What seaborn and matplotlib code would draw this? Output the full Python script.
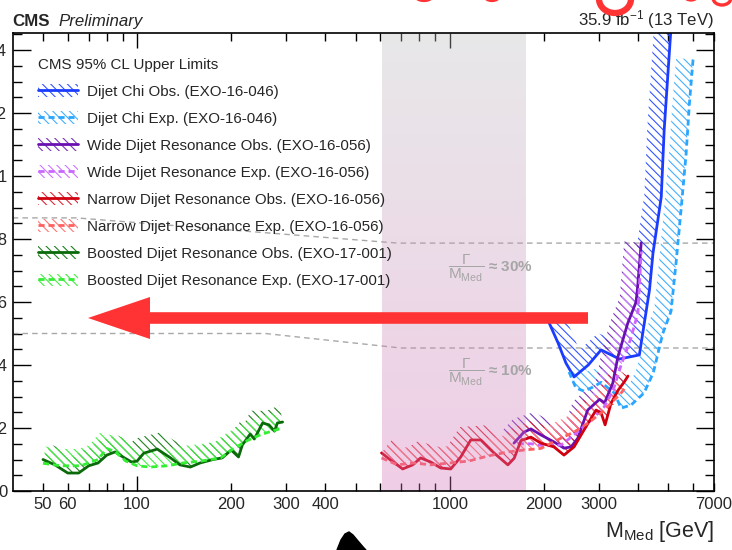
import numpy as np
import pandas as pd
import matplotlib
matplotlib.use("Agg")
import matplotlib.pyplot as plt
import seaborn as sns
from matplotlib.patches import Patch, Polygon, FancyArrow, Arc
from matplotlib.lines import Line2D
from matplotlib.ticker import FixedLocator, FixedFormatter, MultipleLocator, FuncFormatter
from matplotlib.transforms import IdentityTransform
from matplotlib.legend_handler import HandlerTuple

# ---------------- data ----------------
chi_obs_x = [2080, 2220, 2353, 2497, 2773, 3048, 3487, 4040, 4352, 4466, 4747, 4850, 4995, 5100]
chi_obs_y = [0.533, 0.47, 0.406, 0.362, 0.40, 0.448, 0.419, 0.432, 0.638, 0.755, 0.934, 1.146, 1.337, 1.47]

chi_exp_x = [2406, 2532, 2688, 2870, 3048, 3360, 3530, 3800, 4180, 4475, 4800, 5100, 5300, 5500, 5700, 5840, 6000]
chi_exp_y = [0.378, 0.327, 0.317, 0.33, 0.345, 0.311, 0.263, 0.273, 0.311, 0.375, 0.50, 0.57, 0.73, 0.90, 1.07, 1.23, 1.37]

wide_obs_x = [1604, 1727, 1818, 1957, 2153, 2319, 2443, 2565, 2762, 3013, 3127, 3321, 3449, 3707, 3943, 3990, 4095]
wide_obs_y = [0.152, 0.187, 0.197, 0.178, 0.156, 0.136, 0.14, 0.167, 0.257, 0.291, 0.28, 0.342, 0.426, 0.532, 0.60, 0.649, 0.788]

wide_exp_x = [1650, 1818, 2000, 2270, 2497, 2773, 3118, 3333, 3532, 3800, 4000, 4096]
wide_exp_y = [0.15, 0.15, 0.143, 0.146, 0.178, 0.216, 0.267, 0.32, 0.40, 0.486, 0.568, 0.76]

narrow_obs_x = [605, 647, 707, 761, 807, 869, 936, 1007, 1084, 1167, 1257, 1384, 1534, 1607, 1689,
                1818, 1957, 2153, 2319, 2497, 2689, 2937, 3048, 3139, 3280, 3455, 3612, 3716]
narrow_obs_y = [0.121, 0.098, 0.070, 0.083, 0.105, 0.092, 0.073, 0.070, 0.108, 0.162, 0.162, 0.121, 0.083, 0.104, 0.16,
                0.171, 0.152, 0.14, 0.114, 0.14, 0.194, 0.257, 0.248, 0.21, 0.279, 0.32, 0.346, 0.365]

narrow_exp_x = [605, 680, 767, 870, 1000, 1150, 1323, 1534, 1727, 1957, 2270, 2497, 2773, 3048, 3280, 3532, 3650]
narrow_exp_y = [0.105, 0.083, 0.089, 0.083, 0.089, 0.095, 0.111, 0.124, 0.13, 0.135, 0.168, 0.187, 0.216, 0.248, 0.279, 0.311, 0.33]

boost_obs_x = [50, 54.6, 60, 65, 70, 75, 80, 85, 90, 96, 100, 105, 116, 128, 137, 148, 159, 175, 187,
               200, 211, 217, 230, 237, 252, 264, 275, 281, 292]
boost_obs_y = [0.10, 0.083, 0.057, 0.057, 0.08, 0.089, 0.114, 0.124, 0.108, 0.092, 0.095, 0.12, 0.133, 0.105,
               0.083, 0.076, 0.089, 0.10, 0.105, 0.13, 0.108, 0.146, 0.181, 0.165, 0.216, 0.21, 0.19, 0.216, 0.219]

boost_exp_x = [50, 57, 66, 75, 80, 85, 92, 100, 110, 125, 140, 160, 185, 200, 225, 250, 270, 292]
boost_exp_y = [0.088, 0.08, 0.08, 0.10, 0.135, 0.125, 0.095, 0.08, 0.076, 0.08, 0.089, 0.095, 0.105, 0.13,
               0.16, 0.18, 0.19, 0.20]

gamma30_x = [40, 64, 681, 7000]
gamma30_y = [0.867, 0.867, 0.787, 0.787]
gamma10_x = [40, 257, 697, 7000]
gamma10_y = [0.50, 0.50, 0.454, 0.454]

labels = ["Dijet Chi Obs. (EXO-16-046)", "Dijet Chi Exp. (EXO-16-046)",
          "Wide Dijet Resonance Obs. (EXO-16-056)", "Wide Dijet Resonance Exp. (EXO-16-056)",
          "Narrow Dijet Resonance Obs. (EXO-16-056)", "Narrow Dijet Resonance Exp. (EXO-16-056)",
          "Boosted Dijet Resonance Obs. (EXO-17-001)", "Boosted Dijet Resonance Exp. (EXO-17-001)"]

x_major = [100, 1000]
x_minor = [50, 60, 70, 80, 90, 200, 300, 400, 500, 600, 700, 800, 900,
           2000, 3000, 4000, 5000, 6000, 7000]
x_minor_labels = ["50", "60", "", "", "", "200", "300", "400", "", "", "", "", "",
                  "2000", "3000", "", "", "", "7000"]

# ---------------- style ----------------
sns.set_style("ticks")
plt.rcParams["font.family"] = ["Liberation Sans", "DejaVu Sans"]
plt.rcParams["mathtext.fontset"] = "custom"
plt.rcParams["mathtext.rm"] = "Liberation Sans"
plt.rcParams["mathtext.it"] = "Liberation Sans:italic"
plt.rcParams["mathtext.bf"] = "Liberation Sans:bold"
plt.rcParams["hatch.linewidth"] = 0.8

W, H = 732, 550
fig = plt.figure(figsize=(W / 100, H / 100), dpi=100)
fig.patch.set_facecolor("white")
ax = fig.add_axes([12.7 / W, (H - 491) / H, (714 - 12.7) / W, (491 - 33) / H])
ax.set_facecolor("white")
ax.set_xscale("log")
XL = (40, 7000)
YL = (0, 1.454)
ax.set_xlim(*XL)
ax.set_ylim(*YL)

HATCH = "\\\\\\\\"


def band(x, y, color, w=17):
    pts = ax.transData.transform(np.column_stack([x, y]))
    d = np.gradient(pts, axis=0)
    n = np.column_stack([-d[:, 1], d[:, 0]])
    n /= np.linalg.norm(n, axis=1)[:, None]
    off = pts + w * n
    poly = ax.transData.inverted().transform(np.vstack([pts, off[::-1]]))
    ax.add_patch(Polygon(poly, closed=True, facecolor="none", edgecolor=color,
                         hatch=HATCH, linewidth=0, zorder=1.5))


series = [
    (chi_obs_x, chi_obs_y, "#1a3cff", "#3355ff", "-"),
    (chi_exp_x, chi_exp_y, "#2aa6ff", "#44b0ff", "--"),
    (wide_obs_x, wide_obs_y, "#6a0fb0", "#7a33b8", "-"),
    (wide_exp_x, wide_exp_y, "#cc66ff", "#cc77ff", "--"),
    (narrow_obs_x, narrow_obs_y, "#d00010", "#dd2a3a", "-"),
    (narrow_exp_x, narrow_exp_y, "#ff6060", "#ff7777", "--"),
    (boost_obs_x, boost_obs_y, "#0a6a0a", "#1f7f1f", "-"),
    (boost_exp_x, boost_exp_y, "#33ee33", "#44ee44", "--"),
]

DASH = (0, (2.2, 1.4))

# gamma/M reference lines
for gx, gy in [(gamma30_x, gamma30_y), (gamma10_x, gamma10_y)]:
    sns.lineplot(x=gx, y=gy, ax=ax, color="#a8a8a8", linewidth=1.0,
                 linestyle=(0, (4, 3)), estimator=None, sort=False, zorder=1.2)

handles = []
for x, y, c, hc, ls in series:
    band(x, y, hc)
    sns.lineplot(x=x, y=y, ax=ax, color=c, linewidth=2.0,
                 linestyle=("-" if ls == "-" else DASH), estimator=None, sort=False, zorder=2)
    handles.append((Patch(facecolor="none", edgecolor=hc, hatch=HATCH, linewidth=0),
                    Line2D([], [], color=c, linewidth=2.0, linestyle=("-" if ls == "-" else DASH))))

# shaded region (gray -> pink gradient overlay)
top = np.array([189, 189, 192]) / 255
bot = np.array([212, 112, 184]) / 255
t = np.linspace(0, 1, 256)[:, None]
grad = np.zeros((256, 1, 4))
grad[:, 0, :3] = top * (1 - t) + bot * t
grad[:, 0, 3] = 0.35
ax.imshow(grad, extent=[605, 1760, YL[0], YL[1]], origin="upper", aspect="auto",
          zorder=3, interpolation="bilinear")

# Gamma/M texts
ax.text(1353, 0.708, r"$\dfrac{\Gamma}{\mathrm{M_{Med}}}$ ≈ 30%", color="#a6a6a6",
        fontsize=11, fontweight="bold", ha="center", va="center", zorder=4)
ax.text(1353, 0.375, r"$\dfrac{\Gamma}{\mathrm{M_{Med}}}$ ≈ 10%", color="#a6a6a6",
        fontsize=11, fontweight="bold", ha="center", va="center", zorder=4)

ax.set_xlim(*XL)
ax.set_ylim(*YL)
ax.set_xlabel("")
ax.set_ylabel("")

# ticks
ax.xaxis.set_major_locator(FixedLocator(x_major))
ax.xaxis.set_major_formatter(FixedFormatter([str(v) for v in x_major]))
ax.xaxis.set_minor_locator(FixedLocator(x_minor))
ax.xaxis.set_minor_formatter(FixedFormatter(x_minor_labels))
ax.yaxis.set_major_locator(MultipleLocator(0.2))
ax.yaxis.set_minor_locator(MultipleLocator(0.05))
ax.yaxis.set_major_formatter(FuncFormatter(lambda v, p: f"{v:g}"))
ax.tick_params(axis="x", which="major", direction="in", length=11, width=1, top=True,
               labelsize=12, pad=4.5, color="black")
ax.tick_params(axis="x", which="minor", direction="in", length=6, width=1, top=True,
               labelsize=12, pad=4.5, color="black")
ax.tick_params(axis="y", which="major", direction="in", length=13, width=1, right=True,
               labelsize=12, pad=4, color="black")
ax.tick_params(axis="y", which="minor", direction="in", length=6.5, width=1, right=True,
               color="black")
for s in ax.spines.values():
    s.set_linewidth(1.2)
    s.set_color("black")
    s.set_zorder(5)

# legend
leg = ax.legend(handles, labels, title="CMS 95% CL Upper Limits",
                handler_map={tuple: HandlerTuple(ndivide=1)},
                loc="upper left", bbox_to_anchor=(38 / W, 1 - 57.5 / H),
                bbox_transform=fig.transFigure, frameon=False, borderpad=0, borderaxespad=0,
                fontsize=10.9, title_fontsize=10.9, handlelength=2.65, handleheight=0.9,
                handletextpad=0.6, labelspacing=0.83, alignment="left")
leg.set_zorder(6)

# header texts
fig.text(12.7 / W, 1 - 26 / H, "CMS", fontsize=12.2, fontweight="bold", va="baseline", ha="left")
fig.text(58 / W, 1 - 26 / H, "Preliminary", fontsize=12.2, fontstyle="italic", va="baseline", ha="left")
fig.text(714 / W, 1 - 25 / H, r"35.9 fb$^{-1}$ (13 TeV)", fontsize=12.1, va="baseline", ha="right")
fig.text(714 / W, 1 - 531 / H, r"M$_{\mathrm{Med}}$ [GeV]", fontsize=15.5, va="center", ha="right")

# annotations: red arrow, red scribbles at top, black blob at bottom
fig.add_artist(FancyArrow(588, H - 318, -500, 0, width=11.6, head_width=42, head_length=62,
                          length_includes_head=True, color="#ff3333", linewidth=0,
                          transform=IdentityTransform(), zorder=10))
for cx, cy, w_, h_, lw in [(615, H + 1, 32, 28, 4.5), (424, H + 3, 16, 8, 1.6),
                           (492, H + 3, 14, 8, 1.6), (691, H + 3, 12, 7, 1.6),
                           (722, H + 2, 18, 14, 2.4)]:
    fig.add_artist(Arc((cx, cy), w_, h_, theta1=180, theta2=360, color="#ff3333",
                       linewidth=lw, transform=IdentityTransform(), zorder=10))
blob = np.array([(337, 550), (341, 540), (345, 534), (349, 532), (353, 535),
                 (358, 541), (364, 548), (366, 550), (337, 550)], dtype=float)
blob[:, 1] = H - blob[:, 1]
fig.add_artist(Polygon(blob, closed=True, color="black", transform=IdentityTransform(), zorder=10))

fig.savefig("out.png", dpi=100, facecolor="white")
